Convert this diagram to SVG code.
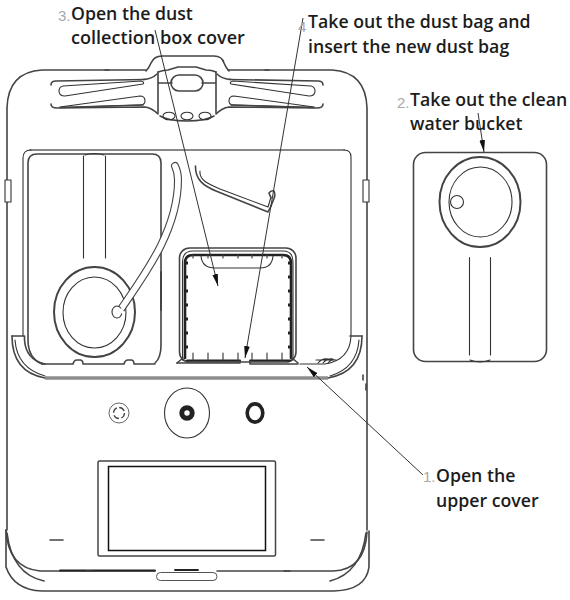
<svg xmlns="http://www.w3.org/2000/svg" width="570" height="600" viewBox="0 0 570 600">
<style>
.l{fill:none;stroke:#333;stroke-width:1.1;stroke-linecap:round;stroke-linejoin:round}
.m{fill:none;stroke:#444;stroke-width:1.6;stroke-linecap:round;stroke-linejoin:round}
.t{fill:none;stroke:#222;stroke-width:2.2;stroke-linecap:round;stroke-linejoin:round}
.g{fill:none;stroke:#888;stroke-width:1.5;stroke-linecap:round}
.a{fill:none;stroke:#333;stroke-width:1}
text{font-family:"Open Sans","Noto Sans","Liberation Sans",sans-serif;font-size:17.7px;font-weight:600;fill:#1c1c1c}
.n{font-family:"Liberation Sans",sans-serif;font-size:15px;font-weight:400;fill:#a8a8a8}
</style>
<defs>
<marker id="ah" markerWidth="13" markerHeight="7" refX="12" refY="3" orient="auto" markerUnits="userSpaceOnUse"><path d="M0,0.2L12,3L0,5.8Z" fill="#111"/></marker>
<g id="wing">
<path class="m" d="M145,79.5L56,81Q51,81 51,85M51,104Q51,108 57,108L145,107Q152,108 158,114"/>
<path class="m" d="M143,79.5Q152,79 157,74"/>
<path class="l" d="M63,86L141,81Q145,82 143,84L65,96Q59,96 59,91Q59,87 63,86Z"/>
<path class="l" d="M60,107L140,96Q145,96 145,101Q145,105 140,105L62,107.500"/>
<path class="m" d="M60,107.500L143,105"/>
</g>
</defs>

<g id="body">
<path class="m" d="M146,70L42,70Q8,72 7,108L7,530"/>
<path class="m" d="M228,70L332,70Q366,72 367,108L367,530"/>
<path class="l" d="M5,180H11V202H5ZM363,180H369V202H363Z" style="fill:#fff"/>
<path class="m" d="M6,530Q8,568 40,571L155,571"/>
<path class="m" d="M7,533Q12,574 44,581"/>
<path class="m" d="M6,530L6,567Q14,590 42,591L334,591Q366,590 369,567L369,531"/>
<path class="m" d="M367,532Q365,570 333,571L217,571"/>
<path class="m" d="M366,533Q361,573 330,581"/>
<path class="t" d="M60,570.500H155M175,570H198" style="stroke-width:1.800"/>
<path class="m" d="M50,540H63M311,540H324M284,571H290M86,571H92M366,384V390M363,375V380"/>
<path class="l" d="M105,70h4M265,70h4"/>
</g>

<g id="handle">
<path class="m" d="M146,71Q149,68 151,63Q154,56 162,56L214,56Q222,56 224,63Q226,68 229,71"/>
<use href="#wing"/>
<use href="#wing" transform="matrix(-1 0 0 1 374 0)"/>
<path class="m" d="M158,72V113M216,72V113M158,83H172M202,83H216"/>
<path class="m" d="M158,72Q164,70 168,70L178,67H196L206,70Q212,70 216,72"/>
<rect class="m" x="171" y="75" width="32" height="16" rx="8"/>
<path class="m" d="M160,116Q168,121 187,121Q206,121 214,116"/>
<ellipse class="l" cx="169" cy="116" rx="6" ry="3.800"/>
<ellipse class="l" cx="187" cy="116" rx="6" ry="3.800"/>
<ellipse class="l" cx="205" cy="116" rx="6" ry="3.800"/>
</g>

<g id="tray">
<path class="g" d="M30,150H344" style="stroke-width:1.800"/>
<path class="l" d="M23,336V158Q23,150 31,150M344,150Q351,150 351,157V336Q350,360 325,364H300"/>
<path class="m" d="M42,364Q28,358 28,340V163Q28,154 37,154H152Q161,154 161,163V345Q161,358 155,363"/>
<path class="m" d="M42,364H73M73,364Q74,360 77,360H80Q83,360 83,364H124M124,364Q125,360 128,360H131Q134,360 134,364H155"/>
<path class="m" d="M161,272V310" style="stroke-width:2"/>
<path class="l" d="M318,363Q322,358 328,359M323,363Q327,358 333,359M328,363Q331,359 336,360M316,360H334"/>
</g>

<g id="cover">
<path class="m" d="M12,336H24.500V340Q26,360 45,364"/>
<path class="m" d="M12,336Q12,372 45,378"/>
<path class="l" d="M15,340Q17,368 45,376"/>
<path class="m" d="M362,336H350"/>
<path class="m" d="M362,336Q362,372 328,378"/>
<path class="l" d="M359,340Q357,368 330,376"/>
<path d="M45,378H328" fill="none" stroke="#8c8c8c" stroke-width="3.600"/>
</g>

<g id="left-bucket">
<path class="l" d="M83.500,156V258M105.500,156V258M85,155Q94,152 104,155"/>
<ellipse class="m" cx="94.500" cy="312" rx="40.500" ry="45" style="stroke-width:2"/>
<ellipse class="l" cx="94.500" cy="312.500" rx="31.500" ry="35.500"/>
<path d="M119,312C142,278 178,232 178,180Q178,172 175,166" fill="none" stroke="#444" stroke-width="8" stroke-linecap="round"/>
<path d="M119,312C142,278 178,232 178,180Q178,172 175,166" fill="none" stroke="#fff" stroke-width="5.800" stroke-linecap="round"/>
<ellipse class="l" cx="117" cy="312" rx="5" ry="6" style="fill:#fff"/>
<path d="M120,309L124,314" stroke="#fff" stroke-width="3" fill="none"/>
</g>

<g id="hose">
<path class="m" d="M195.500,166C195,180 204,186 216,191L268,212L271,206"/>
<path class="l" d="M200,171C199,180 208,184 220,189L268,207L271,197"/>
<path class="m" d="M271,198L269,193Q271,190 274,191Q276,195 273,201L271,206"/>
</g>

<g id="dust-box">
<rect class="m" x="179.500" y="248" width="116.500" height="114" rx="10"/>
<path class="l" d="M182.500,360V262Q182.500,251 193,251H283Q293,251 293,262V360" />
<path class="t" d="M185,358V263Q185,255 193,255H283Q291,255 291,263V358" style="stroke-width:2.600"/>
<path class="t" d="M187,360.500H240M250,360.500H290"/>
<path class="m" d="M177,363H240V361M250,361V364H298"/>
<path class="m" d="M177,363L183,358M298,363L292,358"/>
<path class="l" d="M201,256Q202,268 215,268H260Q272,268 273,256"/>
<path class="m" d="M193,353V360M208,353V360M223,353V360M238,353V360M252,353V360M267,353V360M282,353V360M193,255V258M208,255V258M223,255V258M238,255V258M252,255V258M267,255V258M282,255V258" style="stroke-width:1.200"/>
<path class="t" d="M185,263H188M185,277H188M185,291H188M185,305H188M185,319H188M185,333H188M185,347H188M288,263H291M288,277H291M288,291H291M288,305H291M288,319H291M288,333H291M288,347H291" style="stroke-width:3;stroke-linecap:butt"/>
</g>

<g id="buttons">
<circle cx="119" cy="413" r="10" fill="none" stroke="#666" stroke-width="1"/>
<circle cx="119" cy="413" r="5.500" fill="none" stroke="#444" stroke-width="1.300" stroke-dasharray="6 2.500"/>
<ellipse class="l" cx="187" cy="413" rx="22.500" ry="25"/>
<circle cx="187" cy="413" r="5.200" fill="none" stroke="#222" stroke-width="5"/>
<ellipse cx="255" cy="413" rx="7.800" ry="9.100" fill="none" stroke="#222" stroke-width="3.600"/>
</g>

<g id="screen">
<rect x="98" y="461" width="177.500" height="95" rx="1.500" fill="none" stroke="#444" stroke-width="1.500"/>
<rect x="108.500" y="466.500" width="157" height="84" fill="none" stroke="#111" stroke-width="1.500"/>
<rect x="156.500" y="572.500" width="60.500" height="8" rx="4" fill="#fff" stroke="#555" stroke-width="1"/>
</g>

<g id="clean-water-bucket">
<rect class="m" x="413.500" y="152.500" width="133" height="209" rx="12"/>
<ellipse class="m" cx="480" cy="202" rx="40.500" ry="45" style="stroke-width:2"/>
<ellipse class="l" cx="480.500" cy="202" rx="31.500" ry="35"/>
<circle class="l" cx="457" cy="202" r="6.500"/>
<path class="l" d="M469.500,257.500V355M490.500,257.500V355M470,360Q480,364 490,360"/>
</g>

<g id="connectors">
<path class="a" d="M155,30L218,286" marker-end="url(#ah)"/>
<path class="a" d="M303,18L245,358" marker-end="url(#ah)"/>
<path class="a" d="M478,113L484,152" marker-end="url(#ah)"/>
<path class="a" d="M423,475L307,367" marker-end="url(#ah)"/>
</g>

<g id="labels">
<text class="n" x="58" y="21">3.</text>
<text x="71" y="20">Open the dust</text>
<text x="71" y="44" style="font-size:18.100px">collection box cover</text>
<text class="n" x="298" y="32">4</text>
<text x="308" y="28">Take out the dust bag and</text>
<text x="308" y="53">insert the new dust bag</text>
<text class="n" x="397" y="108">2.</text>
<text x="410" y="106">Take out the clean</text>
<text x="410" y="130">water bucket</text>
<text class="n" x="423" y="482">1.</text>
<text x="436" y="482">Open the</text>
<text x="436" y="507">upper cover</text>
</g>
</svg>
